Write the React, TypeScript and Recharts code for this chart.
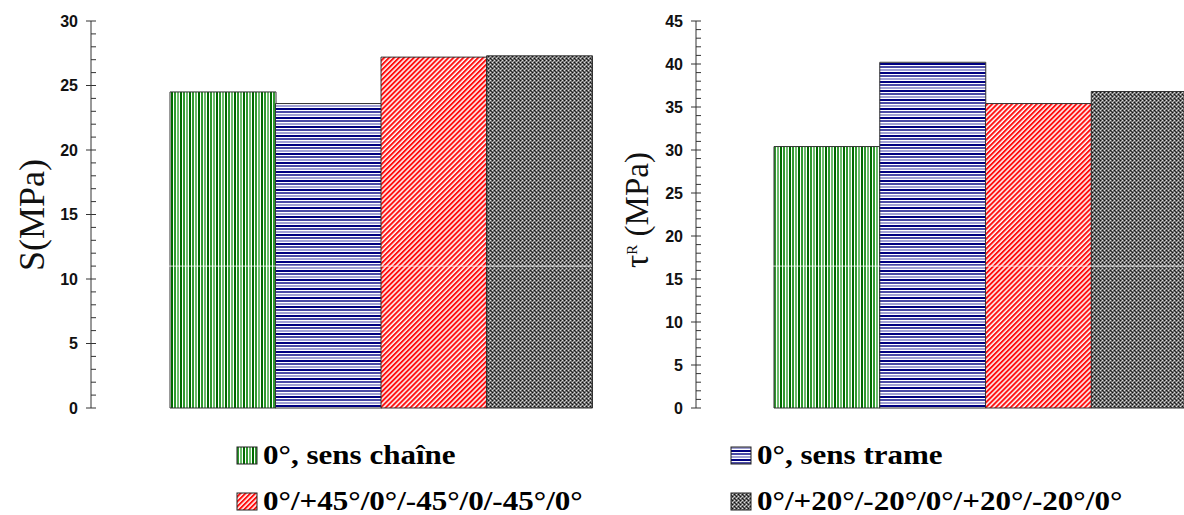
import { BarChart, Bar, XAxis, YAxis, Cell, ReferenceLine } from "recharts";

// stacking sequences (legend order)
const sequences = [
  "0°, sens chaîne",
  "0°, sens trame",
  "0°/+45°/0°/-45°/0/-45°/0°",
  "0°/+20°/-20°/0°/+20°/-20°/0°",
];
const patternIds = ["pGreen", "pBlue", "pRed", "pGray"];

// left panel: S (MPa)
const valuesS = [24.5, 23.6, 27.2, 27.3];
const ticksS = [0, 5, 10, 15, 20, 25, 30];
// right panel: tau^R (MPa)
const valuesTau = [30.4, 40.2, 35.4, 36.8];
const ticksTau = [0, 5, 10, 15, 20, 25, 30, 35, 40, 45];

const minorTicks = (max: number) => Array.from({ length: max + 1 }, (_, i) => i);

const dataS = sequences.map((name, i) => ({ name, value: valuesS[i] }));
const dataTau = sequences.map((name, i) => ({ name, value: valuesTau[i] }));

const SERIF = "'Liberation Serif', 'Times New Roman', serif";
const SANS = "'Liberation Sans', Arial, sans-serif";

function Patterns() {
  return (
    <svg width={0} height={0} style={{ position: "absolute" }}>
      <defs>
        <pattern id="pGreen" patternUnits="userSpaceOnUse" width={9} height={4}>
          <rect width={9} height={4} fill="#fff" />
          <rect x={0} width={2} height={4} fill="#006a00" />
          <rect x={3} width={2} height={4} fill="#2f9a2f" />
          <rect x={6} width={2} height={4} fill="#6cbc6c" />
        </pattern>
        <pattern id="pBlue" patternUnits="userSpaceOnUse" width={4} height={9}>
          <rect width={4} height={9} fill="#fff" />
          <rect y={0} width={4} height={2} fill="#000080" />
          <rect y={3} width={4} height={2} fill="#4a4aa6" />
          <rect y={6} width={4} height={2} fill="#a0a0d4" />
        </pattern>
        <pattern id="pRed" patternUnits="userSpaceOnUse" width={3.5} height={3.5} patternTransform="rotate(45)">
          <rect width={3.5} height={3.5} fill="#fff" />
          <rect width={2} height={3.5} fill="#ff1010" />
        </pattern>
        <pattern id="pGray" patternUnits="userSpaceOnUse" width={4} height={4}>
          <rect width={4} height={4} fill="#6e6e6e" />
          <rect x={0} y={0} width={1} height={1} fill="#111" />
          <rect x={2} y={2} width={1} height={1} fill="#111" />
          <rect x={2} y={0} width={1} height={1} fill="#ddd" />
          <rect x={0} y={2} width={1} height={1} fill="#ddd" />
          <rect x={1} y={1} width={1} height={1} fill="#aaa" />
          <rect x={3} y={3} width={1} height={1} fill="#333" />
        </pattern>
      </defs>
    </svg>
  );
}

function AxisTick(props: any) {
  const { y, payload, axisX } = props;
  const v = payload.value;
  const major = v % 5 === 0;
  return (
    <g>
      <line x1={major ? axisX - 5 : axisX} x2={axisX + 5} y1={y} y2={y} stroke="#333" />
      {major && (
        <text x={axisX - 13} y={y + 5.5} textAnchor="end" fontFamily={SANS} fontWeight="bold" fontSize={16} fill="#111">
          {v}
        </text>
      )}
    </g>
  );
}

function Panel({ data, max, axisWidth, pad, left, rightMargin, refY, title }: any) {
  return (
    <div style={{ position: "absolute", left, top: 0 }}>
      <BarChart width={600} height={420} data={data} margin={{ top: 21, right: rightMargin, bottom: 12, left: 0 }} barCategoryGap={0}>
        <XAxis dataKey="name" hide padding={{ left: pad, right: 0 }} />
        <YAxis
          width={axisWidth}
          domain={[0, max]}
          ticks={minorTicks(max)}
          interval={0}
          tickLine={false}
          axisLine={{ stroke: "#333" }}
          tick={(p: any) => <AxisTick {...p} axisX={axisWidth} />}
          label={{ content: () => title }}
        />
        <Bar dataKey="value" stroke="#333" strokeWidth={1} isAnimationActive={false}>
          {data.map((d: any, i: number) => (
            <Cell key={d.name} fill={`url(#${patternIds[i]})`} />
          ))}
        </Bar>
        <ReferenceLine y={refY} stroke="#fff" strokeOpacity={0.75} />
      </BarChart>
    </div>
  );
}

export default function App() {
  const legendPos = [
    { x: 237, y: 464 },
    { x: 731, y: 464 },
    { x: 237, y: 510 },
    { x: 731, y: 510 },
  ];
  return (
    <div style={{ position: "absolute", left: 0, top: 0, width: 1184, height: 515, overflow: "hidden", background: "#fff" }}>
      <Patterns />
      <Panel
        data={dataS}
        max={ticksS[ticksS.length - 1]}
        axisWidth={91}
        pad={79}
        left={0}
        rightMargin={8}
        refY={11}
        title={
          <text x={44} y={215} transform="rotate(-90, 44, 215)" textAnchor="middle" fontFamily={SERIF} fontSize={36} fill="#111">
            S(MPa)
          </text>
        }
      />
      <Panel
        data={dataTau}
        max={ticksTau[ticksTau.length - 1]}
        axisWidth={96}
        pad={78}
        left={600}
        rightMargin={3}
        refY={16.5}
        title={
          <text x={48} y={210} transform="rotate(-90, 48, 210)" textAnchor="middle" fontFamily={SERIF} fontSize={33} fill="#111">
            <tspan>τ</tspan>
            <tspan dy={-11} fontSize={15}>R</tspan>
            <tspan dy={11}> (MPa)</tspan>
          </text>
        }
      />
      <svg width={1184} height={515} style={{ position: "absolute", left: 0, top: 0, pointerEvents: "none" }}>
        {sequences.map((s, i) => (
          <g key={s}>
            <rect x={legendPos[i].x} y={legendPos[i].y - 17} width={20} height={17} fill={`url(#${patternIds[i]})`} stroke="#222" />
            <text
              transform={`translate(${legendPos[i].x + 26}, ${legendPos[i].y}) scale(1.15, 1)`}
              fontFamily={SERIF}
              fontWeight="bold"
              fontSize={27}
              fill="#000"
            >
              {s}
            </text>
          </g>
        ))}
      </svg>
    </div>
  );
}
